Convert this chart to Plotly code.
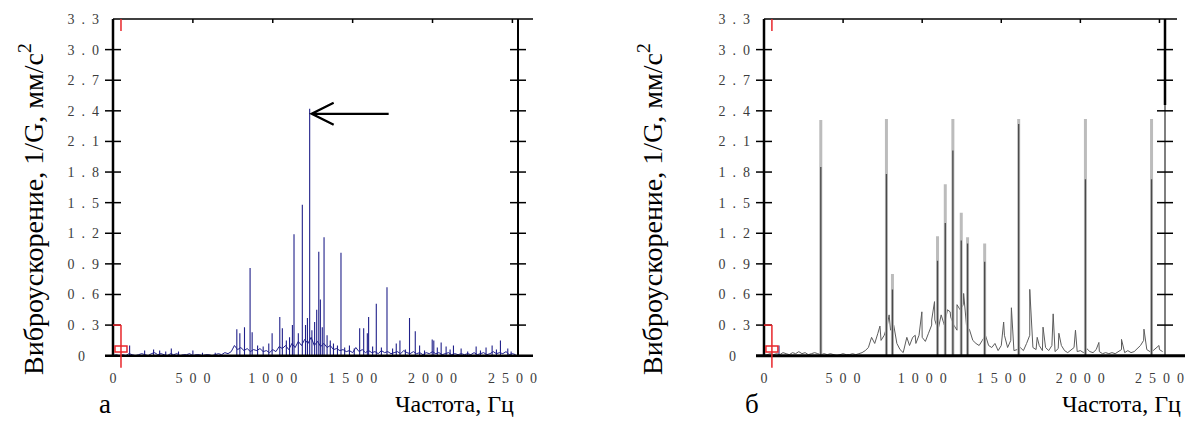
import numpy as np
import plotly.graph_objects as go

W, H = 1185, 432
F_MAX = 2535          # upper limit of the frequency axis, Hz
A_MAX = 3.3           # upper limit of the amplitude axis
STEP = 20             # spacing of the background spectrum samples, Hz

# ---------------- panel "а": background spectrum (0, 20, 40 ... 2520 Hz)
base_a = [
    0.00, 0.01, 0.00, 0.01, 0.00, 0.02, 0.01, 0.00, 0.01, 0.02,
    0.01, 0.00, 0.02, 0.03, 0.01, 0.02, 0.01, 0.00, 0.02, 0.01,
    0.02, 0.00, 0.01, 0.01, 0.02, 0.00, 0.01, 0.01, 0.00, 0.01,
    0.01, 0.00, 0.01, 0.02, 0.01, 0.03, 0.02, 0.04, 0.10, 0.06,
    0.08, 0.05, 0.07, 0.04, 0.06, 0.05, 0.07, 0.04, 0.05, 0.03,
    0.06, 0.04, 0.09, 0.07, 0.10, 0.06, 0.12, 0.08, 0.14, 0.10,
    0.16, 0.12, 0.18, 0.10, 0.14, 0.09, 0.12, 0.08, 0.10, 0.06,
    0.07, 0.05, 0.06, 0.04, 0.05, 0.03, 0.08, 0.04, 0.06, 0.03,
    0.05, 0.03, 0.04, 0.02, 0.05, 0.03, 0.04, 0.02, 0.03, 0.04,
    0.02, 0.05, 0.03, 0.02, 0.04, 0.02, 0.03, 0.01, 0.03, 0.02,
    0.04, 0.02, 0.03, 0.01, 0.02, 0.03, 0.01, 0.02, 0.01, 0.02,
    0.01, 0.02, 0.01, 0.03, 0.01, 0.02, 0.03, 0.01, 0.02, 0.04,
    0.02, 0.03, 0.02, 0.04, 0.01, 0.02, 0.01,
]

# panel "а": discrete spectral lines
peak_f_a = [104, 198, 254, 292, 330, 365, 410, 500, 560, 640,
            775, 794, 823, 858, 871, 905, 940, 975, 996, 1044,
            1060, 1085, 1105, 1123, 1133, 1160, 1185, 1205, 1217, 1231,
            1245, 1262, 1275, 1288, 1298, 1310, 1321, 1340, 1360, 1380,
            1405, 1427, 1450, 1480, 1510, 1544, 1569, 1592, 1600, 1625,
            1648, 1680, 1715, 1750, 1773, 1796, 1830, 1856, 1892, 1919,
            1950, 1998, 2008, 2030, 2054, 2085, 2110, 2131, 2179, 2220,
            2273, 2300, 2335, 2373, 2400, 2425, 2471, 2492]
peak_a_a = [0.10, 0.05, 0.06, 0.05, 0.04, 0.07, 0.04, 0.05, 0.03, 0.03,
            0.26, 0.22, 0.28, 0.86, 0.23, 0.10, 0.09, 0.12, 0.22, 0.38,
            0.27, 0.15, 0.18, 0.30, 1.19, 0.22, 1.48, 0.30, 0.37, 2.42,
            0.25, 0.33, 0.45, 1.02, 0.55, 0.28, 1.16, 0.20, 0.15, 0.12,
            0.10, 1.01, 0.08, 0.10, 0.07, 0.27, 0.27, 0.22, 0.38, 0.09,
            0.51, 0.08, 0.67, 0.07, 0.12, 0.15, 0.06, 0.37, 0.24, 0.10,
            0.05, 0.16, 0.15, 0.08, 0.13, 0.09, 0.06, 0.10, 0.07, 0.04,
            0.09, 0.05, 0.08, 0.10, 0.06, 0.15, 0.07, 0.04]
main_peak_f, main_peak_a = 1231, 2.42   # line marked by the arrow

# ---------------- panel "б": background spectrum (0, 20, 40 ... 2520 Hz)
base_b = [
    0.00, 0.01, 0.02, 0.01, 0.02, 0.01, 0.03, 0.02, 0.01, 0.03,
    0.02, 0.04, 0.02, 0.03, 0.01, 0.02, 0.03, 0.02, 0.01, 0.02,
    0.01, 0.02, 0.01, 0.00, 0.01, 0.02, 0.01, 0.01, 0.02, 0.01,
    0.02, 0.03, 0.05, 0.08, 0.18, 0.12, 0.22, 0.15, 0.20, 0.30,
    0.25, 0.30, 0.12, 0.06, 0.03, 0.15, 0.10, 0.18, 0.12, 0.20,
    0.18, 0.14, 0.22, 0.30, 0.35, 0.25, 0.40, 0.30, 0.45, 0.38,
    0.30, 0.25, 0.45, 0.50, 0.30, 0.25, 0.15, 0.12, 0.10, 0.15,
    0.20, 0.10, 0.08, 0.12, 0.05, 0.10, 0.20, 0.08, 0.15, 0.05,
    0.06, 0.08, 0.05, 0.12, 0.20, 0.08, 0.06, 0.10, 0.05, 0.08,
    0.05, 0.10, 0.04, 0.07, 0.10, 0.05, 0.03, 0.06, 0.08, 0.04,
    0.05, 0.03, 0.07, 0.04, 0.03, 0.06, 0.04, 0.02, 0.03, 0.02,
    0.03, 0.02, 0.04, 0.06, 0.03, 0.05, 0.03, 0.04, 0.07, 0.10,
    0.15, 0.06, 0.04, 0.05, 0.08, 0.06, 0.04,
]

# panel "б": smaller peaks, part of the same continuous trace
small_f_b = [733, 791, 903, 956, 998, 1060, 1078, 1177, 1220, 1262,
             1515, 1564, 1680, 1727, 1764, 1828, 1864, 1969, 2117, 2260,
             2402, 2497]
small_a_b = [0.29, 0.40, 0.18, 0.20, 0.43, 0.35, 0.53, 0.43, 0.50, 0.61,
             0.33, 0.47, 0.65, 0.18, 0.28, 0.41, 0.22, 0.25, 0.13, 0.16,
             0.26, 0.10]

# panel "б": sharp lines (full height and height of the dense core)
tall_f_b = [359, 774, 812, 1097, 1146, 1194, 1247, 1287, 1395, 1610, 2032, 2450]
tall_a_b = [2.31, 2.32, 0.80, 1.17, 1.68, 2.32, 1.40, 1.16, 1.10, 2.32, 2.32, 2.32]
core_a_b = [1.85, 1.78, 0.65, 0.93, 1.30, 2.01, 1.13, 1.10, 0.92, 2.27, 1.73, 1.73]

# short blue reference line near the origin of panel "б"
ref_f_b, ref_a_b = 95, 0.10

# axis ticks and labels
y_ticks = [0, 0.3, 0.6, 0.9, 1.2, 1.5, 1.8, 2.1, 2.4, 2.7, 3.0, 3.3]
y_ticktext = ["0\u2002\u2002", "0\u2002.\u20023", "0\u2002.\u20026", "0\u2002.\u20029",
              "1\u2002.\u20022", "1\u2002.\u20025", "1\u2002.\u20028", "2\u2002.\u20021",
              "2\u2002.\u20024", "2\u2002.\u20027", "3\u2002.\u20020", "3\u2002.\u20023"]
y_marks = [0.3, 0.6, 0.9, 1.2, 1.5, 1.8, 2.1, 2.4, 2.7, 3.0]
x_ticks = [0, 500, 1000, 1500, 2000, 2500]
x_ticktext = ["0", "5\u20020\u20020", "1\u20020\u20020\u20020", "1\u20025\u20020\u20020",
              "2\u20020\u20020\u20020", "2\u20025\u20020\u20020"]
x_marks = [500, 1000, 1500, 2000, 2500]

y_title = "Виброускорение, 1/G, мм/с<sup>2</sup>"
x_title = "Частота, Гц"
panel_names = ["а", "б"]

# red cursor drawn at the start of each spectrum
cursor_f, cursor_level, cursor_box = 50, 0.3, 0.065

SERIF = "Liberation Serif, Times New Roman, serif"

freq_grid = np.arange(0, F_MAX, STEP)


def stems(f, a):
    xs, ys = [], []
    for fi, ai in zip(f, a):
        xs += [fi, fi, None]
        ys += [0, ai, None]
    return xs, ys


fig = go.Figure()

# ---- panel а
fig.add_trace(go.Scatter(x=freq_grid, y=base_a, mode="lines", xaxis="x", yaxis="y",
                         line=dict(color="#20208a", width=1), hoverinfo="skip"))
sx, sy = stems(peak_f_a, peak_a_a)
fig.add_trace(go.Scatter(x=sx, y=sy, mode="lines", xaxis="x", yaxis="y",
                         line=dict(color="#20208a", width=1.1), hoverinfo="skip"))

# ---- panel б
merged = sorted(zip(list(freq_grid) + small_f_b, base_b + small_a_b))
fig.add_trace(go.Scatter(x=[m[0] for m in merged], y=[m[1] for m in merged], mode="lines",
                         xaxis="x2", yaxis="y2", line=dict(color="#5c5c5c", width=1),
                         hoverinfo="skip"))
sx, sy = stems(tall_f_b, tall_a_b)
fig.add_trace(go.Scatter(x=sx, y=sy, mode="lines", xaxis="x2", yaxis="y2",
                         line=dict(color="#bcbcbc", width=3), hoverinfo="skip"))
sx, sy = stems(tall_f_b, core_a_b)
fig.add_trace(go.Scatter(x=sx, y=sy, mode="lines", xaxis="x2", yaxis="y2",
                         line=dict(color="#4a4a4a", width=1.3), hoverinfo="skip"))
fig.add_trace(go.Scatter(x=[ref_f_b, ref_f_b], y=[0, ref_a_b], mode="lines",
                         xaxis="x2", yaxis="y2", line=dict(color="#20208a", width=1),
                         hoverinfo="skip"))

# ---- geometry of the two plot areas (pixels)
X_PX = [(113, 518), (764, 1165)]
Y_PX = (19, 355.7)
X_DOM = [[a / W, b / W] for a, b in X_PX]
Y_DOM = [1 - Y_PX[1] / H, 1 - Y_PX[0] / H]
PH = Y_PX[1] - Y_PX[0]

tickfont = dict(family=SERIF, size=14, color="#3c3c3c")
layout = dict(template="none", width=W, height=H, margin=dict(l=0, r=0, t=0, b=0),
              paper_bgcolor="white", plot_bgcolor="white", showlegend=False)

for k in range(2):
    xa, ya = ("xaxis", "yaxis") if k == 0 else ("xaxis2", "yaxis2")
    xid, yid = ("x", "y") if k == 0 else ("x2", "y2")
    layout[xa] = dict(range=[0, F_MAX], domain=X_DOM[k], anchor=yid, showgrid=False,
                      zeroline=False, showline=False, automargin=False, fixedrange=True,
                      tickmode="array", tickvals=x_ticks, ticktext=x_ticktext, ticks="",
                      tickfont=tickfont, ticklabelstandoff=12)
    layout[ya] = dict(range=[0, A_MAX], domain=Y_DOM, anchor=xid, showgrid=False,
                      zeroline=False, showline=False, automargin=False, fixedrange=True,
                      tickmode="array", tickvals=y_ticks, ticktext=y_ticktext, ticks="",
                      tickfont=tickfont, ticklabelstandoff=13)

fig.update_layout(**layout)

shapes = []
black = lambda w, c="black": dict(color=c, width=w)


def px_line(x0, y0, x1, y1, line):
    return dict(type="line", xref="paper", yref="paper", x0=x0 / W, x1=x1 / W,
                y0=1 - y0 / H, y1=1 - y1 / H, line=line, layer="above")


for k in range(2):
    xl, xr = X_PX[k]
    yt, yb = Y_PX
    pw = xr - xl
    # frame: left and right walls, top rail, thick base line running past the corners
    shapes.append(px_line(xl, yt, xl, yb, black(2.5)))
    if k == 0:
        shapes.append(px_line(xr, yt, xr, yb, black(2)))
    else:
        shapes.append(px_line(xr, yt, xr, yb, black(1.5, "#555555")))
        shapes.append(px_line(xr, yt, xr, 105, black(2.5)))
    shapes.append(px_line(xl, yt, (533 if k == 0 else 1177), yt, black(1.5)))
    shapes.append(px_line(xl - 8, yb, (533 if k == 0 else W), yb, black(2.5 if k == 0 else 3)))
    # tick marks crossing the left and right walls
    for v in y_marks:
        yv = yb - v / A_MAX * PH
        for xe in (xl, xr):
            shapes.append(px_line(xe - 8, yv, xe + 8, yv, black(1.5)))
    # short ticks hanging from the top rail
    for v in x_marks:
        xv = xl + v / F_MAX * pw
        shapes.append(px_line(xv, yt, xv, yt + 4, black(1.5)))
    # red cursor
    xc = xl + cursor_f / F_MAX * pw
    y_lvl = yb - cursor_level / A_MAX * PH
    y_box = yb - cursor_box / A_MAX * PH
    red = dict(color="#e8262b", width=1.5)
    shapes.append(px_line(xc, y_lvl, xc, yb + 12, red))
    shapes.append(px_line(xl, y_lvl, xc, y_lvl, red))
    shapes.append(px_line(xc, yt, xc, yt + 12, red))
    shapes.append(dict(type="rect", xref="paper", yref="paper", x0=(xc - 6) / W,
                       x1=(xc + 6) / W, y0=1 - (y_box - 3) / H, y1=1 - (y_box + 3) / H,
                       line=red, fillcolor="rgba(0,0,0,0)", layer="above"))

# arrow pointing at the dominant line of panel а
shapes.append(dict(type="path", xref="x", yref="y", xsizemode="pixel", ysizemode="pixel",
                   xanchor=main_peak_f, yanchor=main_peak_a,
                   path="M 2,-5 L 79,-5 M 24,6 L 2,-5 L 24,-16",
                   line=dict(color="black", width=2.3)))
fig.update_layout(shapes=shapes)

ann = []
title_font = dict(family=SERIF, size=28, color="black")
for cx_px in (31, 650):
    ann.append(dict(text=y_title, xref="paper", yref="paper", x=cx_px / W, y=1 - 209 / H,
                    xanchor="center", yanchor="middle", textangle=-90, showarrow=False,
                    font=title_font))
for name, nx, tx in zip(panel_names, (105, 752), (455, 1121)):
    ann.append(dict(text=name, xref="paper", yref="paper", x=nx / W, y=1 - 404 / H,
                    xanchor="center", yanchor="middle", showarrow=False,
                    font=dict(family=SERIF, size=27, color="black")))
    ann.append(dict(text=x_title, xref="paper", yref="paper", x=tx / W, y=1 - 404 / H,
                    xanchor="center", yanchor="middle", showarrow=False,
                    font=dict(family=SERIF, size=24, color="black")))
fig.update_layout(annotations=ann)

fig.write_html("out.html")
